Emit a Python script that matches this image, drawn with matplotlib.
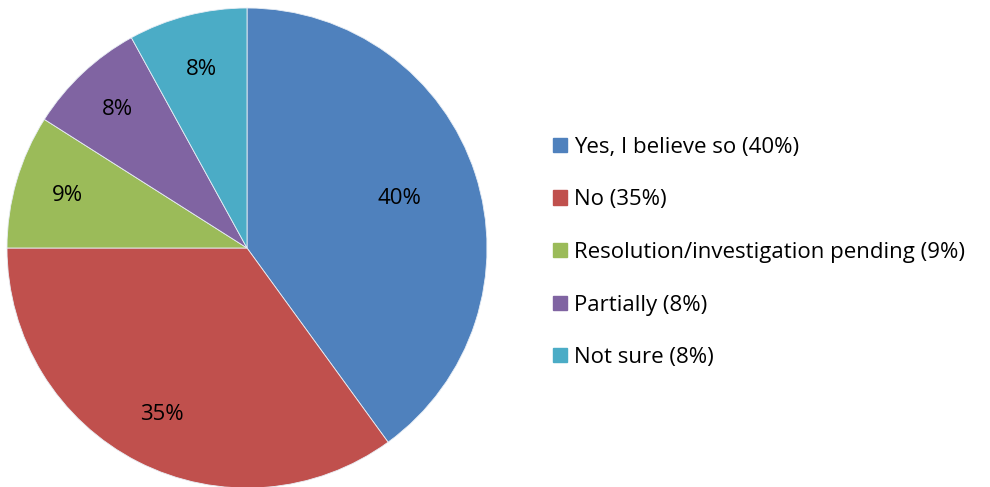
import matplotlib.pyplot as plt
import numpy as np

labels = ["Yes, I believe so", "No", "Resolution/investigation pending", "Partially", "Not sure"]
shares = [40, 35, 9, 8, 8]
colors = ["#4F81BD", "#C0504D", "#9BBB59", "#8064A2", "#4BACC6"]
label_dist = [0.67, 0.78, 0.78, 0.79, 0.77]

plt.rcParams["font.family"] = ["Open Sans", "DejaVu Sans"]

fig = plt.figure(figsize=(9.9, 4.87), dpi=100)
ax = fig.add_axes([7 / 990, (239 - 240) / 487, 480 / 990, 480 / 487])

wedges, _ = ax.pie(shares, colors=colors, startangle=90, counterclock=False,
                   wedgeprops=dict(edgecolor="#e8eef5", linewidth=0.6))
ax.set_xlim(-1, 1)
ax.set_ylim(-1, 1)

# percentage labels inside each slice
for w, val, d in zip(wedges, shares, label_dist):
    mid = np.deg2rad((w.theta1 + w.theta2) / 2)
    ax.text(d * np.cos(mid), d * np.sin(mid), f"{val}%", ha="center", va="center",
            fontsize=16, color="black")

handles = [plt.Rectangle((0, 0), 1, 1, color=c) for c in colors]
leg_labels = [f"{l} ({v}%)" for l, v in zip(labels, shares)]
fig.legend(handles, leg_labels, loc="center left", bbox_to_anchor=(542 / 990, 234.5 / 487),
           frameon=False, fontsize=16, handlelength=0.62, handleheight=0.62,
           handletextpad=0.3, labelspacing=1.42, borderpad=0)

fig.savefig("out.png", dpi=100)
